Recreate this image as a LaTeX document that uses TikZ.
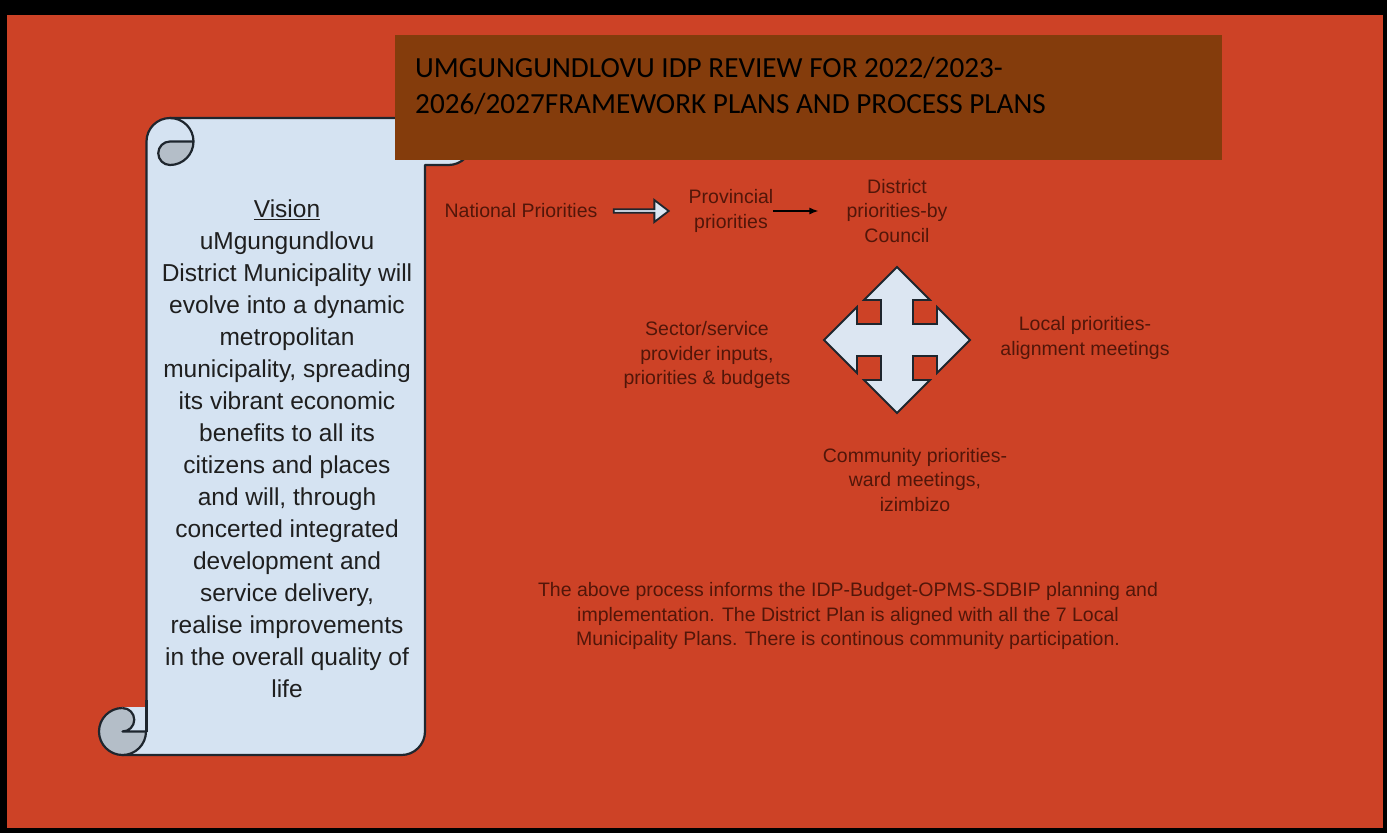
\documentclass[tikz,border=0pt]{standalone}
\usepackage{fontspec}
\setmainfont{Liberation Sans}
\newfontfamily\calibri{Carlito}
\usetikzlibrary{shapes.arrows,arrows.meta}
\definecolor{bgred}{HTML}{CD4226}
\definecolor{titlebrown}{HTML}{843C0C}
\definecolor{scrollfill}{HTML}{D5E3F2}
\definecolor{curlgray}{HTML}{B4BEC8}
\definecolor{outlinec}{HTML}{1E262E}
\definecolor{txtred}{HTML}{521609}
\definecolor{arrowfill}{HTML}{DCE6F2}
\begin{document}
\begin{tikzpicture}[x=1pt,y=-1pt,
  lbl/.style={text=txtred, font=\fontsize{19.5}{24.5}\selectfont, align=center, inner sep=0pt},
  scrollline/.style={draw=outlinec, line width=2.2pt, line join=round},
  blockarrow/.style={draw=outlinec, line width=1.8pt, fill=arrowfill, line join=miter}]
\useasboundingbox (0,0) rectangle (1387,833);
\fill[black] (0,0) rectangle (1387,833);
\fill[bgred] (7,15) rectangle (1383,828);

% scroll body
\path[scrollline, fill=scrollfill]
  (146.5,731.5) -- (146.5,141.5) arc[start angle=180, end angle=270, radius=23.5]
  -- (448.5,118) arc[start angle=270, end angle=450, radius=23.5]
  -- (425,165) -- (425,731.5) arc[start angle=0, end angle=90, radius=23.5]
  -- (122.5,755) -- (122.5,731.5) -- cycle;
% top-left curl
\path[scrollline, fill=curlgray]
  (170,141.5) -- (193.5,141.5) arc[start angle=0, end angle=90, radius=23.5]
  arc[start angle=90, end angle=270, radius=11.75] -- cycle;
\draw[scrollline] (170,118) arc[start angle=270, end angle=360, radius=23.5];
% bottom-left curl
\path[scrollline, fill=curlgray] (122.5,731.5) circle[radius=23.5];
\fill[scrollfill] (122.5,707.2) -- (147,707.2) -- (147,731.5) -- (122.5,731.5)
  arc[start angle=90, end angle=-90, radius=11.75] -- cycle;
\draw[scrollline] (122.5,708) arc[start angle=-90, end angle=90, radius=11.75] -- (146.5,731.5);
\draw[scrollline] (146.5,700) -- (146.5,731.5);

\node[font=\fontsize{24.5}{32}\selectfont, text=black!88, align=center, inner sep=0pt] (vision) at (287,449)
 {\underline{Vision}\\uMgungundlovu\\District Municipality will\\evolve into a dynamic\\metropolitan\\municipality, spreading\\its vibrant economic\\benefits to all its\\citizens and places\\and will, through\\concerted integrated\\development and\\service delivery,\\realise improvements\\in the overall quality of\\life};

% title
\fill[titlebrown] (395,35) rectangle (1222,160);
\node[anchor=west, align=left, inner sep=0pt, font=\calibri\fontsize{29.2}{36}\selectfont, text=black] (title) at (415,86)
 {UMGUNGUNDLOVU IDP REVIEW FOR 2022/2023-\\2026/2027FRAMEWORK PLANS AND PROCESS PLANS};

% flow
\node[lbl] (nat) at (521,211) {National Priorities};
\node[lbl] (prov) at (731,211) {Provincial\\priorities};
\node[lbl] (dist) at (897,211) {District\\priorities-by\\Council};
\node[single arrow, blockarrow, minimum height=55pt, minimum width=22pt, single arrow head extend=4.5pt,
      single arrow tip angle=75, inner sep=0pt, anchor=center] (blk) at (640,211) {};
\draw[-{Latex[length=9pt,width=7pt]}, line width=1.3pt, black, shorten >=28pt] (prov.east) -- (dist.west);

% four-way arrow
\coordinate (hub) at (897,340);
\draw[blockarrow, shift={(hub)}]
 (0,-73) -- (33,-40) -- (16,-40) -- (16,-16) -- (40,-16) -- (40,-33) -- (73,0) -- (40,33) -- (40,16) -- (16,16)
 -- (16,40) -- (33,40) -- (0,73) -- (-33,40) -- (-16,40) -- (-16,16) -- (-40,16) -- (-40,33) -- (-73,0)
 -- (-40,-33) -- (-40,-16) -- (-16,-16) -- (-16,-40) -- (-33,-40) -- cycle;

\node[lbl] (sector) at (707,355) {Sector/service\\provider inputs,\\priorities \& budgets};
\node[lbl] (local) at (1085,338) {Local priorities-\\alignment meetings};
\node[lbl] (comm) at (915,480) {Community priorities-\\ward meetings,\\izimbizo};
\node[lbl] (note) at (848,616) {The above process informs the IDP-Budget-OPMS-SDBIP planning and\\implementation. The District Plan is aligned with all the 7 Local\\Municipality Plans. There is continous community participation.};
\end{tikzpicture}
\end{document}
